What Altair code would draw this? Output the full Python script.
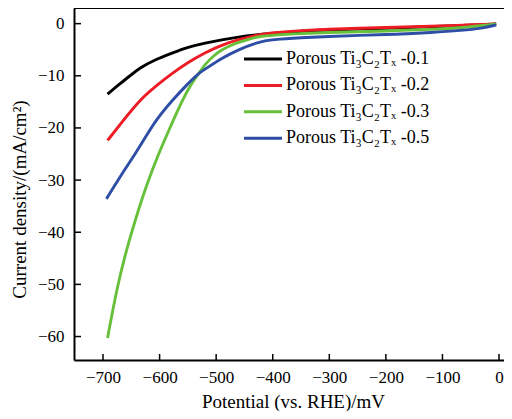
import altair as alt
import pandas as pd

labels = ["Porous Ti₃C₂Tₓ -0.1", "Porous Ti₃C₂Tₓ -0.2",
          "Porous Ti₃C₂Tₓ -0.3", "Porous Ti₃C₂Tₓ -0.5"]
colors = ["#000000", "#ed1c24", "#66c03a", "#2e4ea6"]

x_01 = [-692, -670, -650, -635, -610, -577, -550, -519, -490, -461, -430, -400,
        -350, -300, -250, -200, -150, -100, -50, -5]
y_01 = [-13.5, -11.5, -9.8, -8.5, -7.0, -5.6, -4.5, -3.7, -3.1, -2.55, -2.15, -1.85,
        -1.45, -1.2, -1.05, -0.9, -0.7, -0.5, -0.3, -0.05]

x_02 = [-692, -663, -635, -605, -577, -548, -519, -490, -461, -426, -400, -350,
        -300, -250, -182, -120, -65, -5]
y_02 = [-22.4, -18.4, -14.6, -11.8, -9.45, -7.3, -5.5, -4.1, -3.07, -2.1, -1.75, -1.3,
        -1.05, -0.9, -0.7, -0.5, -0.3, -0.05]

x_03 = [-692, -676, -660, -642, -624, -602, -583, -565, -548, -531, -519, -505,
        -490, -475, -461, -440, -426, -400, -350, -300, -250, -182, -120, -65, -5]
y_03 = [-60.3, -51.0, -43.9, -37.3, -31.2, -25.0, -20.3, -15.9, -12.2, -9.6, -7.7, -6.2,
        -5.0, -4.2, -3.6, -2.9, -2.5, -2.2, -1.9, -1.7, -1.55, -1.35, -1.1, -0.8, -0.1]

x_05 = [-694, -662, -642, -624, -606, -577, -548, -531, -519, -490, -461, -426,
        -400, -350, -300, -250, -182, -120, -65, -30, -5]
y_05 = [-33.6, -28.0, -24.8, -21.6, -18.4, -14.6, -11.3, -9.5, -8.7, -6.6, -5.0, -3.5,
        -3.05, -2.7, -2.45, -2.25, -2.05, -1.7, -1.3, -0.9, -0.25]

x_ticks = [-700, -600, -500, -400, -300, -200, -100, 0]
y_ticks = [0, -10, -20, -30, -40, -50, -60]

W, H = 430, 352
x_dom = [-751.3, 8.8]
y_dom = [-64.5, 3]

rows = []
for i, (lab, xs, ys) in enumerate(zip(labels, [x_01, x_02, x_03, x_05], [y_01, y_02, y_03, y_05])):
    for j, (xv, yv) in enumerate(zip(xs, ys)):
        rows.append({"series": lab, "potential": xv, "current": yv, "k": i * 100 + j})
df = pd.DataFrame(rows)

font = "Liberation Serif"
xs_ = alt.Scale(domain=x_dom, nice=False, zero=False)
ys_ = alt.Scale(domain=y_dom, nice=False, zero=False)

x_axis = alt.Axis(values=x_ticks, title="Potential (vs. RHE)/mV",
                  ticks=False, tickSize=0, domain=True, domainColor="black",
                  domainWidth=2, grid=False, labelPadding=9, labelFontSize=17,
                  labelFont=font, labelColor="black", titleFont=font,
                  titleFontSize=19, titleFontWeight="normal", titleColor="black",
                  titlePadding=7, titleX=219, titleAlign="center", labelFlush=False)
y_axis = alt.Axis(values=y_ticks, title="Current density/(mA/cm²)",
                  ticks=False, tickSize=0, domain=True, domainColor="black",
                  domainWidth=2, grid=False, labelPadding=10, labelFontSize=17,
                  labelFont=font, labelColor="black", titleFont=font,
                  titleFontSize=19, titleFontWeight="normal", titleColor="black",
                  titleX=-55, titleY=191, titleAngle=270,
                  titleBaseline="middle", titleAlign="center",
                  labelFlush=False)

lines = alt.Chart(df).mark_line(strokeWidth=2.9, interpolate="basis").encode(
    x=alt.X("potential:Q", scale=xs_, axis=x_axis),
    y=alt.Y("current:Q", scale=ys_, axis=y_axis),
    color=alt.Color("series:N",
                    scale=alt.Scale(domain=labels, range=colors),
                    legend=alt.Legend(title=None, orient="none", legendX=178, legendY=40,
                                      symbolType="M-2,0H2", symbolSize=361,
                                      symbolStrokeWidth=3, labelFont=font,
                                      labelFontSize=18, labelColor="black",
                                      labelOffset=12, rowPadding=6.4, padding=0,
                                      labelLimit=400)),
    order=alt.Order("k:Q"),
)

xt = alt.Chart(pd.DataFrame({"potential": x_ticks})).mark_rule(color="black", strokeWidth=1.5).encode(
    x=alt.X("potential:Q", scale=xs_, axis=x_axis),
    y=alt.value(H), y2=alt.value(H - 6),
)
yt = alt.Chart(pd.DataFrame({"current": y_ticks})).mark_rule(color="black", strokeWidth=1.5).encode(
    y=alt.Y("current:Q", scale=ys_, axis=y_axis),
    x=alt.value(0), x2=alt.value(7),
)
top = alt.Chart(pd.DataFrame({"t": [0]})).mark_rule(color="black", strokeWidth=2).encode(
    x=alt.value(0), x2=alt.value(W), y=alt.value(0),
)

chart = alt.layer(lines, xt, yt, top).properties(
    width=W,
    height=H,
    autosize=alt.AutoSizeParams(type="none"),
    padding={"left": 66, "top": 0, "right": 0, "bottom": 51},
).configure_view(
    stroke=None
)

chart.save("out.html", embed_options={"renderer": "svg", "actions": False})
